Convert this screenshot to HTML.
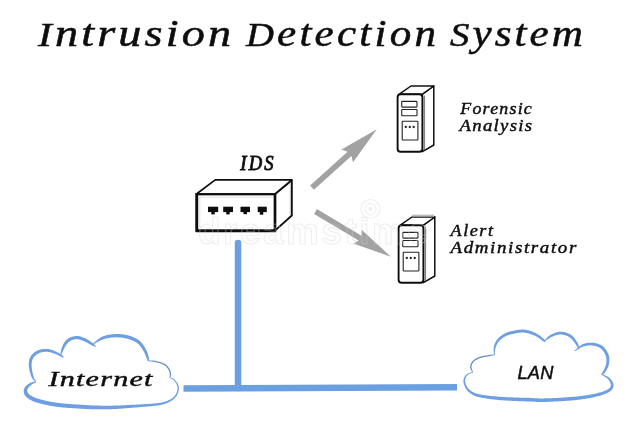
<!DOCTYPE html>
<html><head><meta charset="utf-8">
<style>
html,body{margin:0;padding:0;background:#fff;}
body{width:640px;height:444px;overflow:hidden;}
svg{display:block;}
text{font-family:"Liberation Serif", serif;font-style:italic;fill:#111;stroke:#111;stroke-width:0.45px;}
</style></head>
<body>
<svg width="640" height="444" viewBox="0 0 640 444">
<defs><filter id="soft" x="0" y="0" width="100%" height="100%"><feGaussianBlur stdDeviation="0.35"/></filter></defs>
<rect width="640" height="444" fill="#fff"/>
<g filter="url(#soft)">
<!-- title -->
<text transform="translate(38.00,46.00) scale(1.200,1)" x="0" y="0" font-size="38.50" textLength="160.83" lengthAdjust="spacing" style="stroke-width:0.55px"><tspan font-size="34.5">I</tspan>ntrusion</text>
<text transform="translate(246.00,46.00) scale(1.120,1)" x="0" y="0" font-size="38.50" textLength="169.64" lengthAdjust="spacing" style="stroke-width:0.55px"><tspan font-size="34.5">D</tspan>etection</text>
<text transform="translate(450.00,46.00) scale(1.120,1)" x="0" y="0" font-size="38.50" textLength="118.75" lengthAdjust="spacing" style="stroke-width:0.55px"><tspan font-size="34.5">S</tspan>ystem</text>
<!-- IDS label -->
<text transform="translate(240.30,169.70) scale(0.930,1)" x="0" y="0" font-size="20.00" textLength="35.81" lengthAdjust="spacing" style="stroke-width:0.85px">IDS</text>
<!-- IDS box -->
<path d="M275,194 L291.8,180.2 L291.8,215.5 L275,230.6 Z" fill="#fff" stroke="#111" stroke-width="1.9" stroke-linejoin="round"/>
<path d="M196.5,194 L215.2,179.9 L291.8,179.9 L275,194 Z" fill="#fff" stroke="#111" stroke-width="1.7" stroke-linejoin="round"/>
<line x1="290.2" y1="182.5" x2="290.2" y2="215" stroke="#bbb" stroke-width="0.8"/>
<rect x="196.8" y="194.2" width="78.2" height="36.5" fill="#fff" stroke="#111" stroke-width="2.3"/>
<line x1="196.8" y1="193.2" x2="196.8" y2="231.8" stroke="#111" stroke-width="2.8"/>
<line x1="275" y1="194" x2="275" y2="231.5" stroke="#111" stroke-width="2.5"/>
<line x1="196" y1="230.8" x2="276" y2="230.8" stroke="#111" stroke-width="2.7"/>
<line x1="199.5" y1="197.2" x2="273" y2="197.2" stroke="#ddd" stroke-width="0.8"/>
<line x1="199.8" y1="197.2" x2="199.8" y2="228.5" stroke="#ddd" stroke-width="0.8"/>
<rect x="208.0" y="206.7" width="10.2" height="5.4" fill="#111"/><rect x="211.3" y="211.5" width="3.5" height="2.9" fill="#111"/><rect x="223.2" y="206.7" width="9.8" height="5.4" fill="#111"/><rect x="226.2" y="211.5" width="3.5" height="2.9" fill="#111"/><rect x="240.5" y="206.7" width="9.5" height="5.4" fill="#111"/><rect x="243.5" y="211.5" width="3.5" height="2.7" fill="#111"/><rect x="257.7" y="206.7" width="9.1" height="5.4" fill="#111"/><rect x="259.8" y="211.5" width="3.5" height="3.2" fill="#111"/>
<!-- arrows -->
<path d="M310.1,185.6 L347.6,151.8 L341.5,149.5 L376.8,129.3 L353.0,162.3 L351.4,156.0 L313.9,189.8 Z" fill="#a2a2a2"/>
<path d="M316.9,209.1 L361.5,235.8 L361.6,229.8 L390.9,256.7 L353.4,243.6 L358.7,240.6 L314.1,213.9 Z" fill="#a2a2a2"/>
<!-- servers -->
<path d="M422.4,94.2 L433.8,86.0 L433.8,145.0 L422.4,151.7 Z" fill="#fff" stroke="#111" stroke-width="1.5" stroke-linejoin="round"/>
<path d="M399.3,94.2 L411.0,86.0 L433.8,86.0 L422.4,94.2 Z" fill="#fff" stroke="#111" stroke-width="1.5" stroke-linejoin="round"/>
<rect x="397.6" y="94.2" width="24.8" height="57.5" rx="3" fill="#fff" stroke="#111" stroke-width="1.9"/>
<line x1="424.6" y1="95.5" x2="424.6" y2="150.3" stroke="#555" stroke-width="0.8"/>
<rect x="401.7" y="101.4" width="15.3" height="5.7" rx="0.8" fill="#fff" stroke="#222" stroke-width="1.1"/>
<rect x="401.7" y="109.5" width="15.3" height="6.3" rx="0.8" fill="#fff" stroke="#222" stroke-width="1.1"/>
<rect x="402.2" y="121.2" width="15.7" height="18.8" rx="0.8" fill="#fff" stroke="#222" stroke-width="1.1"/>
<circle cx="405.8" cy="127.0" r="1.15" fill="#222"/>
<circle cx="409.8" cy="127.0" r="1.15" fill="#222"/>
<circle cx="413.7" cy="127.0" r="1.15" fill="#222"/>
<path d="M423.4,225.2 L434.8,217.0 L434.8,276.0 L423.4,282.7 Z" fill="#fff" stroke="#111" stroke-width="1.5" stroke-linejoin="round"/>
<path d="M400.3,225.2 L412.0,217.0 L434.8,217.0 L423.4,225.2 Z" fill="#fff" stroke="#111" stroke-width="1.5" stroke-linejoin="round"/>
<rect x="398.6" y="225.2" width="24.8" height="57.5" rx="3" fill="#fff" stroke="#111" stroke-width="1.9"/>
<line x1="425.6" y1="226.5" x2="425.6" y2="281.3" stroke="#555" stroke-width="0.8"/>
<rect x="402.7" y="232.4" width="15.3" height="5.7" rx="0.8" fill="#fff" stroke="#222" stroke-width="1.1"/>
<rect x="402.7" y="240.5" width="15.3" height="6.3" rx="0.8" fill="#fff" stroke="#222" stroke-width="1.1"/>
<rect x="403.2" y="252.2" width="15.7" height="18.8" rx="0.8" fill="#fff" stroke="#222" stroke-width="1.1"/>
<circle cx="406.8" cy="258.0" r="1.15" fill="#222"/>
<circle cx="410.8" cy="258.0" r="1.15" fill="#222"/>
<circle cx="414.7" cy="258.0" r="1.15" fill="#222"/>
<line x1="412" y1="215.6" x2="434" y2="215.6" stroke="#bdbdbd" stroke-width="2"/>
<!-- server labels -->
<text transform="translate(460.30,113.60) scale(1.050,1)" x="0" y="0" font-size="17.00" textLength="68.10" lengthAdjust="spacing" >Forensic</text>
<text transform="translate(459.60,130.60) scale(1.100,1)" x="0" y="0" font-size="17.00" textLength="65.82" lengthAdjust="spacing" >Analysis</text>
<text transform="translate(450.50,236.00) scale(1.050,1)" x="0" y="0" font-size="17.20" textLength="40.48" lengthAdjust="spacing" >Alert</text>
<text transform="translate(450.50,252.60) scale(1.100,1)" x="0" y="0" font-size="17.20" textLength="114.36" lengthAdjust="spacing" >Administrator</text>
<!-- watermark -->
<g opacity="0.35">
<text x="198" y="243.5" font-size="37" textLength="230" lengthAdjust="spacing" style="font-family:'Liberation Sans',sans-serif;font-style:normal;font-weight:bold;fill:none;stroke:#d0d0d0;stroke-width:1.1px">dreamstime</text>
<circle cx="370.5" cy="209" r="9.5" fill="none" stroke="#d4d4d4" stroke-width="1.2"/>
<circle cx="370.5" cy="209" r="5.5" fill="none" stroke="#d4d4d4" stroke-width="1.2"/>
<circle cx="370.5" cy="209" r="2" fill="#d4d4d4"/>
</g>
<!-- network lines -->
<line x1="238" y1="243" x2="238" y2="388" stroke="#6aa0e2" stroke-width="6.5" stroke-linecap="round"/>
<line x1="183.5" y1="388.4" x2="457" y2="387.3" stroke="#6aa0e2" stroke-width="6.5"/>
<!-- clouds -->
<path d="M35.57,381.25 L35.22,381.36 L34.87,381.47 L34.51,381.57 L34.15,381.66 L33.79,381.76 L33.42,381.85 L33.05,381.95 L32.68,382.05 L32.30,382.15 L31.92,382.26 L31.54,382.39 L31.15,382.52 L30.77,382.68 L30.38,382.84 L30.00,383.03 L29.62,383.24 L29.27,383.46 L28.91,383.69 L28.55,383.93 L28.18,384.19 L27.81,384.46 L27.44,384.75 L27.07,385.04 L26.70,385.35 L26.35,385.67 L26.00,386.00 L25.67,386.34 L25.36,386.70 L25.06,387.07 L24.78,387.46 L24.53,387.88 L24.31,388.31 L24.14,388.73 L23.99,389.14 L23.88,389.57 L23.80,390.01 L23.75,390.46 L23.72,390.92 L23.72,391.38 L23.75,391.84 L23.80,392.31 L23.88,392.78 L24.00,393.24 L24.14,393.71 L24.32,394.17 L24.53,394.62 L24.78,395.07 L25.05,395.50 L25.36,395.92 L25.70,396.32 L26.06,396.71 L26.44,397.08 L26.84,397.45 L27.27,397.80 L27.71,398.15 L28.17,398.49 L28.65,398.82 L29.14,399.15 L29.65,399.46 L30.17,399.77 L30.70,400.07 L31.25,400.36 L31.80,400.64 L32.37,400.92 L32.96,401.18 L33.57,401.43 L34.19,401.68 L34.83,401.91 L35.49,402.13 L36.15,402.35 L36.83,402.56 L37.52,402.76 L38.21,402.96 L38.92,403.16 L39.63,403.34 L40.34,403.53 L41.06,403.71 L41.78,403.89 L42.50,404.07 L43.23,404.24 L43.97,404.42 L44.72,404.60 L45.48,404.77 L46.25,404.94 L47.03,405.10 L47.82,405.27 L48.62,405.43 L49.42,405.58 L50.23,405.74 L51.05,405.88 L51.87,406.03 L52.69,406.17 L53.52,406.30 L54.35,406.43 L55.19,406.56 L56.02,406.68 L56.84,406.79 L57.63,406.90 L58.39,407.00 L59.15,407.09 L59.90,407.17 L60.65,407.25 L61.41,407.33 L62.19,407.40 L62.99,407.48 L63.82,407.55 L64.69,407.62 L65.60,407.69 L66.57,407.76 L67.60,407.84 L68.69,407.91 L69.86,408.00 L71.12,408.08 L72.48,408.16 L73.93,408.25 L75.44,408.35 L77.02,408.45 L78.64,408.54 L80.31,408.64 L81.99,408.73 L83.69,408.83 L85.39,408.92 L87.08,409.00 L88.74,409.08 L90.37,409.15 L91.96,409.21 L93.49,409.26 L94.94,409.30 L96.35,409.32 L97.74,409.34 L99.11,409.35 L100.45,409.35 L101.78,409.34 L103.09,409.33 L104.38,409.32 L105.64,409.29 L106.89,409.27 L108.11,409.24 L109.32,409.20 L110.51,409.17 L111.67,409.13 L112.82,409.09 L113.94,409.04 L115.05,409.00 L116.13,408.95 L117.18,408.90 L118.20,408.84 L119.19,408.78 L120.15,408.72 L121.09,408.65 L122.01,408.58 L122.92,408.50 L123.81,408.43 L124.70,408.35 L125.59,408.27 L126.47,408.20 L127.36,408.12 L128.26,408.04 L129.17,407.97 L130.10,407.90 L131.03,407.83 L131.97,407.76 L132.91,407.69 L133.86,407.62 L134.80,407.55 L135.74,407.48 L136.69,407.41 L137.63,407.33 L138.58,407.26 L139.52,407.19 L140.47,407.11 L141.42,407.03 L142.36,406.95 L143.31,406.87 L144.26,406.78 L145.20,406.70 L146.16,406.61 L147.13,406.52 L148.11,406.43 L149.11,406.34 L150.12,406.25 L151.12,406.16 L152.13,406.07 L153.13,405.97 L154.12,405.87 L155.09,405.76 L156.05,405.65 L156.98,405.53 L157.89,405.41 L158.76,405.28 L159.60,405.13 L160.40,404.98 L161.16,404.82 L161.88,404.66 L162.57,404.49 L163.23,404.31 L163.87,404.12 L164.48,403.93 L165.07,403.74 L165.64,403.53 L166.19,403.32 L166.73,403.11 L167.25,402.89 L167.76,402.66 L168.25,402.43 L168.74,402.20 L169.22,401.95 L169.70,401.71 L170.18,401.45 L170.64,401.19 L171.10,400.93 L171.54,400.66 L171.97,400.38 L172.39,400.09 L172.80,399.80 L173.19,399.51 L173.57,399.20 L173.94,398.89 L174.30,398.57 L174.64,398.25 L174.97,397.91 L175.29,397.58 L175.59,397.23 L175.88,396.87 L176.16,396.51 L176.43,396.13 L176.68,395.74 L176.92,395.34 L177.14,394.93 L177.35,394.52 L177.54,394.10 L177.72,393.68 L177.88,393.26 L178.04,392.84 L178.18,392.42 L178.30,392.01 L178.42,391.61 L178.52,391.21 L178.61,390.82 L178.69,390.44 L178.76,390.07 L178.81,389.70 L178.86,389.33 L178.90,388.97 L178.92,388.61 L178.93,388.26 L178.92,387.90 L178.90,387.55 L178.87,387.20 L178.83,386.85 L178.77,386.50 L178.69,386.15 L178.60,385.80 L178.50,385.45 L178.37,385.10 L178.23,384.75 L178.07,384.39 L177.88,384.02 L177.67,383.65 L177.45,383.28 L177.21,382.91 L176.95,382.54 L176.69,382.17 L176.42,381.81 L176.13,381.45 L175.85,381.10 L175.56,380.77 L175.27,380.44 L174.99,380.14 L174.70,379.85 L174.42,379.58 L174.15,379.33 L173.87,379.09 L173.59,378.88 L173.30,378.70 L173.02,378.53 L172.74,378.38 L172.45,378.24 L172.17,378.12 L171.90,378.01 L171.62,377.90 L171.35,377.80 L171.08,377.71 L170.81,377.61 L170.54,377.51 L170.28,377.41 L170.02,377.30 L169.76,377.18 L169.44,377.82 L169.70,377.96 L169.97,378.10 L170.24,378.22 L170.51,378.34 L170.78,378.46 L171.04,378.57 L171.30,378.69 L171.55,378.80 L171.81,378.93 L172.05,379.05 L172.30,379.19 L172.54,379.34 L172.77,379.50 L173.00,379.67 L173.23,379.86 L173.45,380.07 L173.69,380.32 L173.93,380.58 L174.19,380.87 L174.44,381.17 L174.70,381.49 L174.96,381.82 L175.21,382.16 L175.46,382.51 L175.70,382.86 L175.93,383.22 L176.15,383.57 L176.35,383.93 L176.54,384.27 L176.70,384.61 L176.85,384.94 L176.97,385.25 L177.08,385.56 L177.17,385.87 L177.25,386.17 L177.33,386.46 L177.39,386.76 L177.44,387.06 L177.48,387.35 L177.51,387.65 L177.52,387.95 L177.53,388.25 L177.52,388.55 L177.50,388.86 L177.47,389.18 L177.43,389.50 L177.38,389.83 L177.31,390.16 L177.24,390.51 L177.15,390.86 L177.05,391.23 L176.94,391.60 L176.82,391.98 L176.68,392.36 L176.54,392.74 L176.38,393.12 L176.21,393.50 L176.03,393.87 L175.84,394.24 L175.64,394.60 L175.43,394.95 L175.20,395.29 L174.97,395.61 L174.72,395.93 L174.45,396.23 L174.17,396.52 L173.87,396.81 L173.57,397.10 L173.25,397.38 L172.91,397.65 L172.57,397.92 L172.21,398.18 L171.84,398.44 L171.45,398.69 L171.06,398.94 L170.65,399.18 L170.23,399.42 L169.80,399.65 L169.35,399.87 L168.90,400.09 L168.43,400.31 L167.96,400.52 L167.49,400.72 L167.01,400.92 L166.52,401.11 L166.03,401.29 L165.52,401.47 L164.99,401.64 L164.45,401.81 L163.89,401.97 L163.31,402.12 L162.71,402.27 L162.07,402.42 L161.41,402.56 L160.72,402.69 L160.00,402.82 L159.24,402.94 L158.44,403.05 L157.59,403.15 L156.71,403.25 L155.80,403.34 L154.86,403.43 L153.90,403.50 L152.92,403.58 L151.93,403.65 L150.93,403.72 L149.92,403.78 L148.92,403.85 L147.92,403.91 L146.93,403.98 L145.95,404.04 L145.00,404.10 L144.05,404.17 L143.11,404.23 L142.17,404.29 L141.23,404.34 L140.29,404.39 L139.34,404.44 L138.40,404.49 L137.46,404.54 L136.51,404.59 L135.57,404.63 L134.62,404.68 L133.68,404.72 L132.74,404.77 L131.79,404.81 L130.85,404.86 L129.90,404.90 L128.97,404.95 L128.05,405.00 L127.14,405.05 L126.25,405.10 L125.36,405.16 L124.47,405.21 L123.59,405.26 L122.70,405.31 L121.80,405.36 L120.89,405.40 L119.96,405.45 L119.01,405.49 L118.04,405.52 L117.05,405.55 L116.02,405.58 L114.95,405.60 L113.85,405.62 L112.73,405.64 L111.59,405.65 L110.43,405.67 L109.25,405.68 L108.06,405.69 L106.84,405.69 L105.61,405.69 L104.36,405.69 L103.08,405.68 L101.79,405.67 L100.48,405.65 L99.15,405.62 L97.81,405.59 L96.44,405.55 L95.06,405.50 L93.62,405.45 L92.11,405.39 L90.55,405.31 L88.93,405.23 L87.28,405.14 L85.60,405.05 L83.91,404.95 L82.22,404.84 L80.54,404.73 L78.89,404.62 L77.27,404.52 L75.70,404.41 L74.19,404.30 L72.75,404.20 L71.40,404.10 L70.14,404.00 L68.97,403.92 L67.88,403.85 L66.86,403.77 L65.91,403.70 L65.01,403.63 L64.15,403.56 L63.34,403.49 L62.56,403.42 L61.80,403.35 L61.07,403.27 L60.34,403.20 L59.62,403.11 L58.88,403.03 L58.14,402.93 L57.37,402.83 L56.58,402.72 L55.77,402.60 L54.96,402.48 L54.16,402.35 L53.35,402.22 L52.55,402.09 L51.75,401.95 L50.96,401.80 L50.18,401.65 L49.40,401.50 L48.62,401.35 L47.86,401.19 L47.10,401.03 L46.35,400.86 L45.61,400.70 L44.89,400.53 L44.17,400.36 L43.45,400.18 L42.74,400.01 L42.03,399.83 L41.33,399.65 L40.64,399.47 L39.96,399.29 L39.29,399.11 L38.63,398.92 L37.99,398.73 L37.37,398.54 L36.76,398.34 L36.17,398.14 L35.60,397.93 L35.06,397.72 L34.53,397.50 L34.03,397.28 L33.54,397.06 L33.05,396.82 L32.57,396.58 L32.11,396.33 L31.65,396.07 L31.22,395.82 L30.80,395.56 L30.40,395.30 L30.03,395.03 L29.68,394.77 L29.35,394.51 L29.05,394.25 L28.78,394.00 L28.53,393.75 L28.32,393.52 L28.15,393.30 L27.99,393.08 L27.86,392.87 L27.74,392.64 L27.64,392.42 L27.55,392.18 L27.48,391.95 L27.42,391.70 L27.38,391.46 L27.35,391.21 L27.34,390.96 L27.34,390.71 L27.35,390.46 L27.38,390.21 L27.41,389.97 L27.45,389.72 L27.49,389.49 L27.54,389.28 L27.62,389.05 L27.73,388.80 L27.88,388.53 L28.05,388.25 L28.25,387.96 L28.48,387.66 L28.72,387.37 L28.98,387.07 L29.26,386.77 L29.54,386.48 L29.83,386.20 L30.12,385.92 L30.41,385.66 L30.70,385.40 L30.98,385.16 L31.23,384.94 L31.49,384.74 L31.76,384.54 L32.04,384.35 L32.34,384.17 L32.64,384.00 L32.96,383.83 L33.29,383.67 L33.62,383.51 L33.96,383.35 L34.30,383.19 L34.65,383.03 L34.99,382.87 L35.34,382.70 L35.69,382.53 L36.03,382.35 Z" fill="#6d9fe2"/>
<path d="M36.18,381.56 L35.99,381.20 L35.79,380.85 L35.59,380.51 L35.39,380.17 L35.19,379.85 L34.99,379.52 L34.80,379.20 L34.61,378.88 L34.43,378.55 L34.26,378.22 L34.09,377.88 L33.94,377.52 L33.79,377.16 L33.65,376.77 L33.52,376.36 L33.40,375.93 L33.28,375.45 L33.14,374.95 L32.99,374.41 L32.85,373.84 L32.71,373.25 L32.57,372.65 L32.44,372.03 L32.31,371.40 L32.20,370.77 L32.09,370.15 L31.99,369.52 L31.91,368.91 L31.83,368.32 L31.77,367.75 L31.73,367.20 L31.70,366.68 L31.66,366.18 L31.64,365.69 L31.63,365.20 L31.63,364.72 L31.64,364.26 L31.66,363.80 L31.69,363.35 L31.73,362.91 L31.78,362.49 L31.84,362.07 L31.91,361.66 L31.99,361.27 L32.08,360.88 L32.18,360.51 L32.29,360.15 L32.41,359.80 L32.54,359.46 L32.68,359.13 L32.84,358.80 L33.00,358.48 L33.18,358.16 L33.37,357.86 L33.57,357.55 L33.78,357.26 L34.00,356.97 L34.23,356.69 L34.47,356.41 L34.71,356.14 L34.97,355.88 L35.23,355.63 L35.50,355.38 L35.77,355.15 L36.04,354.92 L36.33,354.70 L36.62,354.49 L36.93,354.29 L37.24,354.09 L37.56,353.90 L37.89,353.72 L38.23,353.54 L38.58,353.38 L38.93,353.22 L39.29,353.07 L39.66,352.93 L40.03,352.79 L40.41,352.67 L40.79,352.56 L41.17,352.45 L41.57,352.35 L41.98,352.25 L42.39,352.16 L42.82,352.08 L43.25,352.01 L43.69,351.95 L44.14,351.89 L44.59,351.85 L45.04,351.81 L45.50,351.79 L45.95,351.77 L46.41,351.77 L46.86,351.78 L47.32,351.81 L47.77,351.84 L48.21,351.89 L48.65,351.94 L49.10,352.02 L49.57,352.11 L50.06,352.23 L50.55,352.35 L51.04,352.49 L51.54,352.64 L52.05,352.81 L52.55,352.97 L53.04,353.15 L53.53,353.33 L54.02,353.51 L54.49,353.69 L54.96,353.87 L55.40,354.04 L55.83,354.20 L56.24,354.36 L56.63,354.52 L57.03,354.69 L57.42,354.86 L57.80,355.04 L58.18,355.22 L58.55,355.41 L58.91,355.59 L59.26,355.77 L59.60,355.95 L59.92,356.13 L60.24,356.29 L60.54,356.45 L60.82,356.61 L61.09,356.74 L61.35,356.85 L61.58,356.94 L61.78,357.02 L61.95,357.09 L62.10,357.14 L62.24,357.19 L62.36,357.24 L62.46,357.28 L62.56,357.31 L62.65,357.35 L62.75,357.39 L62.84,357.43 L62.94,357.47 L63.04,357.52 L63.14,357.57 L63.26,357.63 L63.39,357.69 L63.81,357.11 L63.73,357.01 L63.66,356.93 L63.59,356.84 L63.54,356.76 L63.48,356.67 L63.43,356.59 L63.37,356.50 L63.30,356.40 L63.23,356.30 L63.14,356.19 L63.03,356.07 L62.92,355.95 L62.78,355.81 L62.63,355.67 L62.45,355.51 L62.25,355.35 L62.03,355.18 L61.79,355.00 L61.53,354.82 L61.25,354.63 L60.95,354.42 L60.63,354.21 L60.30,353.99 L59.96,353.77 L59.60,353.54 L59.22,353.32 L58.84,353.09 L58.44,352.86 L58.04,352.64 L57.62,352.41 L57.20,352.20 L56.77,352.00 L56.34,351.80 L55.90,351.60 L55.43,351.40 L54.95,351.19 L54.46,350.98 L53.96,350.77 L53.44,350.56 L52.92,350.36 L52.39,350.16 L51.85,349.97 L51.31,349.79 L50.76,349.62 L50.22,349.47 L49.67,349.33 L49.13,349.21 L48.59,349.11 L48.06,349.04 L47.53,348.99 L47.00,348.95 L46.47,348.92 L45.95,348.91 L45.42,348.91 L44.90,348.93 L44.37,348.95 L43.86,348.99 L43.35,349.04 L42.84,349.10 L42.34,349.17 L41.85,349.25 L41.37,349.34 L40.89,349.44 L40.43,349.55 L39.97,349.67 L39.51,349.81 L39.06,349.96 L38.61,350.11 L38.18,350.28 L37.74,350.46 L37.31,350.66 L36.89,350.86 L36.48,351.07 L36.08,351.29 L35.68,351.53 L35.29,351.77 L34.91,352.03 L34.54,352.29 L34.18,352.57 L33.83,352.85 L33.50,353.15 L33.17,353.45 L32.85,353.76 L32.53,354.08 L32.23,354.41 L31.93,354.76 L31.64,355.11 L31.36,355.48 L31.09,355.86 L30.84,356.24 L30.59,356.64 L30.36,357.05 L30.14,357.48 L29.94,357.91 L29.75,358.35 L29.59,358.80 L29.44,359.26 L29.31,359.73 L29.20,360.20 L29.10,360.68 L29.01,361.16 L28.94,361.66 L28.88,362.16 L28.84,362.66 L28.80,363.17 L28.78,363.69 L28.78,364.21 L28.78,364.74 L28.80,365.28 L28.82,365.82 L28.86,366.36 L28.90,366.92 L28.98,367.49 L29.07,368.09 L29.17,368.71 L29.29,369.34 L29.42,369.99 L29.56,370.64 L29.71,371.29 L29.87,371.95 L30.04,372.60 L30.22,373.24 L30.40,373.87 L30.59,374.48 L30.78,375.07 L30.97,375.64 L31.18,376.17 L31.40,376.67 L31.63,377.14 L31.88,377.59 L32.13,378.00 L32.38,378.39 L32.64,378.75 L32.90,379.09 L33.16,379.41 L33.43,379.72 L33.69,380.02 L33.95,380.30 L34.20,380.58 L34.45,380.86 L34.70,381.14 L34.94,381.43 L35.18,381.73 L35.42,382.04 Z" fill="#6d9fe2"/>
<path d="M60.93,355.74 L61.11,355.31 L61.29,354.88 L61.48,354.44 L61.66,354.00 L61.84,353.56 L62.03,353.12 L62.22,352.69 L62.41,352.26 L62.60,351.83 L62.79,351.42 L62.99,351.00 L63.19,350.60 L63.40,350.21 L63.59,349.83 L63.77,349.45 L63.95,349.08 L64.13,348.70 L64.31,348.32 L64.48,347.96 L64.66,347.59 L64.83,347.24 L65.00,346.90 L65.18,346.57 L65.36,346.24 L65.54,345.92 L65.72,345.62 L65.91,345.32 L66.11,345.03 L66.31,344.75 L66.52,344.47 L66.73,344.21 L66.96,343.95 L67.20,343.67 L67.45,343.39 L67.70,343.12 L67.96,342.85 L68.22,342.58 L68.48,342.33 L68.75,342.08 L69.03,341.85 L69.31,341.62 L69.59,341.40 L69.88,341.20 L70.18,341.01 L70.48,340.83 L70.78,340.66 L71.10,340.51 L71.43,340.37 L71.78,340.23 L72.15,340.09 L72.55,339.96 L72.95,339.84 L73.37,339.72 L73.80,339.62 L74.24,339.52 L74.69,339.44 L75.14,339.37 L75.59,339.31 L76.04,339.27 L76.49,339.24 L76.93,339.23 L77.37,339.23 L77.80,339.25 L78.22,339.29 L78.63,339.34 L79.06,339.41 L79.50,339.51 L79.95,339.63 L80.42,339.77 L80.89,339.92 L81.37,340.09 L81.86,340.27 L82.34,340.47 L82.83,340.67 L83.31,340.88 L83.79,341.10 L84.27,341.32 L84.74,341.53 L85.20,341.75 L85.65,341.95 L86.07,342.14 L86.49,342.33 L86.90,342.54 L87.32,342.76 L87.74,342.98 L88.15,343.21 L88.55,343.44 L88.95,343.68 L89.35,343.91 L89.74,344.15 L90.12,344.38 L90.48,344.60 L90.84,344.82 L91.19,345.03 L91.53,345.23 L91.85,345.41 L92.16,345.56 L92.44,345.70 L92.71,345.81 L92.98,345.90 L93.23,345.99 L93.46,346.07 L93.69,346.15 L93.91,346.22 L94.12,346.30 L94.33,346.38 L94.53,346.45 L94.74,346.53 L94.95,346.62 L95.16,346.70 L95.38,346.80 L95.60,346.90 L96.00,346.30 L95.82,346.13 L95.66,345.97 L95.50,345.80 L95.35,345.64 L95.20,345.48 L95.05,345.32 L94.91,345.15 L94.76,344.98 L94.60,344.80 L94.44,344.62 L94.27,344.42 L94.08,344.22 L93.88,344.01 L93.66,343.81 L93.41,343.60 L93.15,343.39 L92.86,343.18 L92.56,342.96 L92.24,342.73 L91.90,342.48 L91.55,342.22 L91.19,341.96 L90.81,341.69 L90.42,341.41 L90.02,341.13 L89.61,340.85 L89.19,340.57 L88.75,340.29 L88.31,340.02 L87.86,339.75 L87.41,339.49 L86.95,339.25 L86.50,339.03 L86.04,338.80 L85.57,338.57 L85.08,338.33 L84.58,338.10 L84.07,337.86 L83.55,337.63 L83.02,337.40 L82.48,337.18 L81.94,336.98 L81.39,336.78 L80.83,336.60 L80.28,336.44 L79.71,336.31 L79.14,336.19 L78.58,336.11 L78.02,336.06 L77.46,336.03 L76.90,336.03 L76.35,336.05 L75.79,336.08 L75.24,336.13 L74.69,336.20 L74.15,336.29 L73.61,336.38 L73.09,336.50 L72.57,336.62 L72.07,336.76 L71.57,336.91 L71.09,337.07 L70.63,337.24 L70.17,337.43 L69.73,337.63 L69.29,337.86 L68.87,338.11 L68.47,338.36 L68.08,338.63 L67.70,338.91 L67.34,339.20 L67.00,339.50 L66.66,339.81 L66.34,340.12 L66.03,340.44 L65.74,340.76 L65.45,341.08 L65.17,341.40 L64.90,341.72 L64.64,342.05 L64.38,342.40 L64.13,342.76 L63.90,343.13 L63.68,343.50 L63.47,343.87 L63.27,344.24 L63.08,344.62 L62.90,345.00 L62.73,345.38 L62.57,345.76 L62.41,346.15 L62.25,346.54 L62.10,346.93 L61.95,347.32 L61.80,347.72 L61.65,348.12 L61.50,348.55 L61.37,348.99 L61.25,349.44 L61.16,349.90 L61.07,350.36 L60.98,350.83 L60.89,351.30 L60.81,351.77 L60.72,352.23 L60.63,352.70 L60.55,353.17 L60.46,353.63 L60.37,354.10 L60.27,354.56 L60.17,355.01 L60.07,355.46 Z" fill="#6d9fe2"/>
<path d="M92.75,344.78 L93.36,344.43 L93.98,344.07 L94.60,343.71 L95.22,343.34 L95.84,342.97 L96.46,342.61 L97.07,342.25 L97.69,341.89 L98.31,341.55 L98.92,341.22 L99.53,340.91 L100.13,340.61 L100.73,340.34 L101.32,340.10 L101.91,339.88 L102.48,339.68 L103.03,339.45 L103.59,339.24 L104.13,339.04 L104.68,338.86 L105.23,338.70 L105.77,338.55 L106.31,338.41 L106.86,338.28 L107.41,338.17 L107.97,338.06 L108.53,337.96 L109.10,337.88 L109.68,337.79 L110.27,337.72 L110.87,337.65 L111.48,337.59 L112.10,337.53 L112.74,337.48 L113.38,337.43 L114.04,337.40 L114.71,337.38 L115.39,337.36 L116.07,337.35 L116.75,337.36 L117.43,337.37 L118.11,337.39 L118.79,337.42 L119.46,337.45 L120.11,337.50 L120.76,337.56 L121.39,337.62 L122.01,337.69 L122.61,337.76 L123.21,337.84 L123.81,337.94 L124.40,338.04 L124.98,338.14 L125.55,338.26 L126.12,338.39 L126.69,338.52 L127.25,338.66 L127.80,338.81 L128.34,338.97 L128.88,339.14 L129.42,339.31 L129.94,339.49 L130.46,339.68 L130.98,339.88 L131.50,340.08 L132.01,340.29 L132.52,340.50 L133.02,340.72 L133.52,340.94 L134.00,341.18 L134.48,341.41 L134.95,341.66 L135.41,341.92 L135.86,342.18 L136.30,342.45 L136.72,342.74 L137.14,343.03 L137.54,343.33 L137.94,343.65 L138.32,343.98 L138.68,344.32 L139.05,344.69 L139.40,345.08 L139.76,345.49 L140.11,345.92 L140.46,346.37 L140.80,346.83 L141.13,347.30 L141.45,347.78 L141.77,348.27 L142.08,348.76 L142.38,349.24 L142.67,349.73 L142.95,350.20 L143.23,350.67 L143.49,351.12 L143.74,351.55 L143.98,351.98 L144.21,352.42 L144.43,352.87 L144.64,353.32 L144.84,353.77 L145.04,354.22 L145.23,354.67 L145.41,355.11 L145.58,355.55 L145.74,355.98 L145.90,356.39 L146.05,356.79 L146.19,357.17 L146.33,357.53 L146.46,357.87 L146.59,358.16 L146.73,358.41 L146.85,358.64 L146.96,358.85 L147.05,359.05 L147.14,359.24 L147.23,359.41 L147.30,359.59 L147.37,359.76 L147.44,359.93 L147.51,360.11 L147.57,360.29 L147.64,360.47 L147.71,360.67 L147.78,360.87 L147.86,361.08 L148.74,360.92 L148.74,360.70 L148.75,360.51 L148.76,360.32 L148.78,360.13 L148.80,359.95 L148.82,359.76 L148.84,359.57 L148.86,359.36 L148.88,359.15 L148.89,358.91 L148.89,358.67 L148.89,358.40 L148.87,358.12 L148.85,357.81 L148.81,357.48 L148.74,357.13 L148.65,356.78 L148.55,356.41 L148.44,356.01 L148.32,355.59 L148.19,355.15 L148.06,354.70 L147.92,354.23 L147.76,353.74 L147.60,353.25 L147.42,352.75 L147.24,352.24 L147.04,351.72 L146.83,351.21 L146.60,350.69 L146.36,350.18 L146.11,349.68 L145.85,349.19 L145.58,348.70 L145.30,348.20 L145.00,347.68 L144.69,347.16 L144.37,346.63 L144.04,346.10 L143.70,345.57 L143.34,345.04 L142.97,344.52 L142.59,344.00 L142.20,343.50 L141.79,343.00 L141.37,342.52 L140.93,342.06 L140.48,341.62 L140.03,341.21 L139.56,340.81 L139.08,340.44 L138.59,340.08 L138.09,339.73 L137.59,339.40 L137.07,339.08 L136.55,338.78 L136.03,338.48 L135.49,338.20 L134.96,337.93 L134.42,337.67 L133.87,337.42 L133.33,337.18 L132.78,336.95 L132.22,336.72 L131.66,336.50 L131.08,336.29 L130.50,336.09 L129.91,335.90 L129.32,335.71 L128.72,335.54 L128.11,335.37 L127.50,335.22 L126.88,335.07 L126.26,334.93 L125.63,334.81 L124.99,334.69 L124.35,334.58 L123.70,334.48 L123.05,334.39 L122.39,334.31 L121.72,334.25 L121.04,334.19 L120.34,334.15 L119.64,334.11 L118.92,334.08 L118.20,334.06 L117.48,334.06 L116.75,334.06 L116.03,334.07 L115.30,334.09 L114.58,334.12 L113.87,334.15 L113.16,334.20 L112.47,334.26 L111.78,334.33 L111.12,334.41 L110.47,334.50 L109.83,334.60 L109.21,334.71 L108.59,334.82 L107.97,334.94 L107.36,335.07 L106.75,335.21 L106.15,335.37 L105.55,335.53 L104.95,335.71 L104.35,335.91 L103.75,336.12 L103.15,336.34 L102.54,336.58 L101.94,336.84 L101.32,337.12 L100.72,337.47 L100.13,337.86 L99.54,338.26 L98.97,338.68 L98.40,339.11 L97.83,339.55 L97.27,340.00 L96.71,340.46 L96.15,340.92 L95.59,341.38 L95.04,341.83 L94.48,342.29 L93.93,342.74 L93.37,343.18 L92.82,343.61 L92.25,344.02 Z" fill="#6d9fe2"/>
<path d="M147.37,361.00 L147.89,361.08 L148.40,361.15 L148.92,361.22 L149.43,361.29 L149.94,361.35 L150.45,361.42 L150.96,361.48 L151.46,361.55 L151.97,361.63 L152.48,361.70 L152.99,361.76 L153.50,361.83 L154.01,361.92 L154.52,362.01 L155.04,362.11 L155.56,362.23 L156.10,362.36 L156.67,362.50 L157.25,362.64 L157.84,362.79 L158.44,362.95 L159.04,363.11 L159.64,363.29 L160.23,363.47 L160.82,363.66 L161.39,363.86 L161.95,364.06 L162.48,364.28 L162.99,364.50 L163.48,364.72 L163.92,364.96 L164.34,365.20 L164.72,365.45 L165.09,365.71 L165.43,365.99 L165.77,366.28 L166.08,366.58 L166.38,366.89 L166.67,367.22 L166.94,367.54 L167.20,367.88 L167.45,368.22 L167.68,368.56 L167.90,368.90 L168.11,369.24 L168.31,369.57 L168.50,369.91 L168.68,370.23 L168.84,370.54 L168.99,370.85 L169.12,371.17 L169.23,371.51 L169.34,371.84 L169.43,372.18 L169.51,372.52 L169.58,372.86 L169.64,373.19 L169.69,373.52 L169.73,373.84 L169.77,374.15 L169.80,374.44 L169.82,374.72 L169.84,374.98 L169.85,375.22 L169.86,375.41 L169.86,375.57 L169.85,375.70 L169.83,375.83 L169.81,375.94 L169.77,376.04 L169.75,376.15 L169.72,376.26 L169.68,376.38 L169.64,376.50 L169.59,376.63 L169.53,376.77 L169.47,376.91 L169.42,377.06 L169.36,377.22 L169.32,377.38 L169.88,377.62 L169.96,377.50 L170.04,377.40 L170.12,377.31 L170.22,377.22 L170.32,377.13 L170.42,377.04 L170.53,376.93 L170.64,376.81 L170.76,376.68 L170.86,376.52 L170.94,376.34 L171.01,376.15 L171.07,375.93 L171.12,375.70 L171.14,375.44 L171.15,375.18 L171.14,374.92 L171.13,374.64 L171.11,374.34 L171.09,374.02 L171.06,373.69 L171.02,373.34 L170.97,372.98 L170.91,372.62 L170.84,372.24 L170.75,371.86 L170.66,371.47 L170.54,371.09 L170.41,370.70 L170.27,370.31 L170.10,369.94 L169.92,369.57 L169.72,369.22 L169.52,368.87 L169.31,368.51 L169.08,368.15 L168.84,367.78 L168.59,367.41 L168.32,367.04 L168.03,366.67 L167.73,366.30 L167.41,365.94 L167.07,365.59 L166.71,365.25 L166.33,364.91 L165.93,364.59 L165.51,364.29 L165.06,364.00 L164.59,363.73 L164.09,363.48 L163.56,363.23 L163.00,363.00 L162.43,362.78 L161.84,362.57 L161.24,362.37 L160.63,362.18 L160.01,362.00 L159.40,361.83 L158.78,361.66 L158.17,361.51 L157.56,361.36 L156.97,361.22 L156.40,361.09 L155.84,360.97 L155.29,360.86 L154.74,360.77 L154.19,360.69 L153.66,360.62 L153.12,360.56 L152.59,360.52 L152.07,360.49 L151.55,360.48 L151.03,360.48 L150.51,360.47 L150.00,360.47 L149.49,360.46 L148.98,360.46 L148.46,360.44 L147.95,360.43 L147.43,360.40 Z" fill="#6f92cc"/>
<path d="M472.46,371.97 L472.12,372.09 L471.77,372.21 L471.42,372.33 L471.06,372.44 L470.69,372.55 L470.32,372.66 L469.95,372.77 L469.58,372.88 L469.21,373.00 L468.85,373.13 L468.49,373.26 L468.14,373.41 L467.79,373.57 L467.46,373.75 L467.14,373.95 L466.84,374.16 L466.56,374.39 L466.29,374.63 L466.03,374.89 L465.78,375.15 L465.54,375.43 L465.31,375.71 L465.10,376.01 L464.89,376.31 L464.70,376.62 L464.52,376.93 L464.35,377.25 L464.19,377.58 L464.05,377.91 L463.92,378.25 L463.81,378.58 L463.72,378.93 L463.64,379.27 L463.58,379.61 L463.53,379.96 L463.49,380.31 L463.47,380.67 L463.46,381.03 L463.47,381.39 L463.48,381.76 L463.52,382.13 L463.56,382.51 L463.63,382.89 L463.70,383.27 L463.79,383.65 L463.90,384.04 L464.02,384.43 L464.16,384.82 L464.30,385.21 L464.44,385.61 L464.60,386.02 L464.77,386.44 L464.95,386.87 L465.15,387.31 L465.37,387.75 L465.60,388.20 L465.86,388.65 L466.13,389.09 L466.43,389.54 L466.75,389.98 L467.09,390.41 L467.46,390.83 L467.86,391.25 L468.28,391.64 L468.70,392.01 L469.12,392.37 L469.56,392.72 L470.00,393.07 L470.47,393.42 L470.96,393.76 L471.48,394.09 L472.02,394.42 L472.59,394.74 L473.20,395.06 L473.84,395.36 L474.51,395.66 L475.23,395.94 L475.98,396.22 L476.79,396.49 L477.64,396.75 L478.55,397.00 L479.52,397.24 L480.55,397.47 L481.63,397.69 L482.74,397.90 L483.89,398.10 L485.08,398.29 L486.28,398.48 L487.50,398.66 L488.73,398.83 L489.96,399.00 L491.19,399.16 L492.40,399.31 L493.60,399.46 L494.78,399.60 L495.93,399.74 L497.07,399.86 L498.22,399.97 L499.38,400.08 L500.53,400.17 L501.69,400.26 L502.85,400.34 L504.00,400.42 L505.15,400.49 L506.29,400.55 L507.43,400.61 L508.55,400.67 L509.67,400.73 L510.78,400.78 L511.87,400.84 L512.95,400.89 L514.02,400.95 L515.08,401.00 L516.13,401.05 L517.18,401.09 L518.21,401.13 L519.24,401.17 L520.26,401.20 L521.27,401.23 L522.27,401.26 L523.26,401.29 L524.25,401.32 L525.22,401.35 L526.18,401.38 L527.14,401.40 L528.08,401.43 L529.01,401.47 L529.94,401.50 L530.81,401.53 L531.62,401.57 L532.39,401.62 L533.12,401.67 L533.83,401.72 L534.53,401.77 L535.25,401.82 L535.97,401.87 L536.73,401.92 L537.52,401.96 L538.37,401.99 L539.28,402.02 L540.26,402.03 L541.32,402.03 L542.48,402.02 L543.74,402.00 L545.13,401.96 L546.63,401.91 L548.25,401.85 L549.96,401.78 L551.75,401.71 L553.59,401.62 L555.49,401.53 L557.41,401.43 L559.35,401.32 L561.28,401.21 L563.20,401.09 L565.08,400.97 L566.91,400.85 L568.68,400.71 L570.36,400.58 L571.95,400.44 L573.47,400.30 L574.96,400.15 L576.42,399.99 L577.85,399.83 L579.25,399.66 L580.62,399.48 L581.96,399.31 L583.27,399.12 L584.55,398.93 L585.81,398.74 L587.03,398.55 L588.23,398.35 L589.39,398.14 L590.53,397.94 L591.63,397.73 L592.71,397.52 L593.77,397.30 L594.79,397.08 L595.79,396.84 L596.75,396.61 L597.69,396.37 L598.60,396.12 L599.48,395.88 L600.33,395.63 L601.15,395.37 L601.94,395.12 L602.70,394.86 L603.43,394.61 L604.13,394.35 L604.80,394.10 L605.44,393.84 L606.06,393.59 L606.65,393.34 L607.21,393.09 L607.73,392.84 L608.22,392.58 L608.68,392.33 L609.11,392.07 L609.52,391.81 L609.90,391.54 L610.26,391.27 L610.59,390.99 L610.91,390.71 L611.20,390.43 L611.48,390.14 L611.73,389.85 L611.98,389.55 L612.21,389.25 L612.44,388.93 L612.65,388.60 L612.84,388.27 L613.01,387.92 L613.15,387.57 L613.28,387.21 L613.38,386.85 L613.46,386.48 L613.51,386.10 L613.54,385.73 L613.55,385.35 L613.53,384.97 L613.49,384.59 L613.43,384.22 L613.35,383.84 L613.25,383.46 L613.12,383.07 L612.96,382.67 L612.77,382.28 L612.55,381.89 L612.33,381.49 L612.08,381.09 L611.82,380.70 L611.54,380.30 L611.25,379.91 L610.94,379.53 L610.63,379.15 L610.30,378.78 L609.96,378.42 L609.62,378.08 L609.26,377.75 L608.90,377.44 L608.51,377.15 L608.10,376.88 L607.68,376.62 L607.26,376.38 L606.82,376.16 L606.37,375.94 L605.92,375.74 L605.47,375.54 L605.02,375.35 L604.56,375.16 L604.11,374.97 L603.65,374.79 L603.21,374.60 L602.77,374.41 L602.34,374.21 L601.92,374.00 L601.48,374.80 L601.90,375.05 L602.32,375.29 L602.75,375.53 L603.18,375.77 L603.61,376.01 L604.04,376.24 L604.47,376.47 L604.89,376.71 L605.30,376.95 L605.70,377.19 L606.09,377.43 L606.45,377.69 L606.80,377.94 L607.13,378.21 L607.43,378.48 L607.70,378.76 L607.98,379.05 L608.25,379.37 L608.52,379.70 L608.77,380.04 L609.02,380.39 L609.26,380.75 L609.49,381.12 L609.70,381.49 L609.89,381.85 L610.07,382.22 L610.24,382.58 L610.38,382.92 L610.50,383.26 L610.60,383.58 L610.68,383.87 L610.75,384.14 L610.80,384.40 L610.85,384.65 L610.87,384.89 L610.89,385.12 L610.89,385.34 L610.87,385.55 L610.84,385.76 L610.81,385.96 L610.75,386.16 L610.69,386.35 L610.61,386.55 L610.52,386.74 L610.41,386.94 L610.29,387.14 L610.15,387.34 L609.99,387.55 L609.81,387.76 L609.62,387.98 L609.42,388.19 L609.21,388.39 L608.99,388.59 L608.76,388.78 L608.50,388.98 L608.23,389.17 L607.93,389.37 L607.60,389.57 L607.24,389.77 L606.86,389.97 L606.43,390.17 L605.98,390.38 L605.48,390.59 L604.94,390.81 L604.36,391.03 L603.74,391.25 L603.10,391.47 L602.43,391.70 L601.73,391.92 L601.00,392.15 L600.24,392.38 L599.45,392.60 L598.63,392.82 L597.78,393.04 L596.91,393.26 L596.00,393.47 L595.07,393.68 L594.10,393.89 L593.11,394.09 L592.09,394.28 L591.03,394.47 L589.94,394.67 L588.83,394.85 L587.68,395.04 L586.51,395.22 L585.30,395.40 L584.07,395.58 L582.80,395.75 L581.51,395.92 L580.19,396.09 L578.84,396.24 L577.46,396.40 L576.05,396.55 L574.61,396.69 L573.14,396.83 L571.65,396.96 L570.08,397.09 L568.42,397.21 L566.67,397.34 L564.85,397.45 L562.98,397.57 L561.08,397.68 L559.15,397.78 L557.23,397.88 L555.31,397.98 L553.43,398.06 L551.59,398.14 L549.82,398.21 L548.12,398.27 L546.52,398.32 L545.02,398.37 L543.66,398.40 L542.43,398.42 L541.31,398.43 L540.29,398.43 L539.35,398.42 L538.49,398.39 L537.69,398.36 L536.93,398.32 L536.20,398.28 L535.50,398.23 L534.80,398.18 L534.09,398.13 L533.37,398.08 L532.61,398.03 L531.82,397.98 L530.97,397.94 L530.06,397.90 L529.13,397.87 L528.18,397.85 L527.23,397.82 L526.28,397.80 L525.31,397.78 L524.34,397.76 L523.36,397.74 L522.37,397.71 L521.37,397.69 L520.37,397.66 L519.35,397.64 L518.33,397.61 L517.31,397.57 L516.27,397.54 L515.23,397.50 L514.18,397.45 L513.11,397.41 L512.03,397.37 L510.93,397.32 L509.83,397.28 L508.71,397.24 L507.59,397.19 L506.46,397.14 L505.33,397.09 L504.19,397.03 L503.05,396.97 L501.92,396.90 L500.78,396.83 L499.64,396.75 L498.51,396.66 L497.39,396.57 L496.27,396.46 L495.13,396.35 L493.96,396.24 L492.76,396.13 L491.55,396.01 L490.33,395.88 L489.11,395.74 L487.90,395.60 L486.70,395.46 L485.51,395.31 L484.36,395.15 L483.23,394.98 L482.15,394.81 L481.11,394.63 L480.13,394.44 L479.21,394.25 L478.36,394.05 L477.57,393.84 L476.83,393.63 L476.13,393.41 L475.47,393.19 L474.86,392.96 L474.28,392.72 L473.73,392.48 L473.22,392.23 L472.72,391.97 L472.25,391.71 L471.80,391.44 L471.37,391.16 L470.94,390.87 L470.52,390.57 L470.11,390.27 L469.72,389.96 L469.35,389.66 L469.01,389.34 L468.69,389.01 L468.39,388.67 L468.10,388.31 L467.83,387.95 L467.58,387.58 L467.34,387.20 L467.11,386.82 L466.90,386.43 L466.69,386.05 L466.50,385.66 L466.32,385.28 L466.15,384.91 L465.99,384.54 L465.84,384.18 L465.71,383.84 L465.60,383.51 L465.49,383.19 L465.41,382.86 L465.33,382.55 L465.27,382.23 L465.22,381.92 L465.18,381.61 L465.15,381.31 L465.14,381.01 L465.13,380.71 L465.14,380.42 L465.16,380.13 L465.19,379.84 L465.23,379.56 L465.28,379.27 L465.34,379.00 L465.41,378.71 L465.49,378.43 L465.58,378.14 L465.68,377.85 L465.80,377.57 L465.93,377.28 L466.07,377.01 L466.22,376.73 L466.38,376.46 L466.56,376.20 L466.74,375.95 L466.93,375.70 L467.13,375.47 L467.34,375.25 L467.56,375.04 L467.79,374.84 L468.03,374.66 L468.30,374.49 L468.58,374.33 L468.89,374.17 L469.21,374.03 L469.54,373.88 L469.88,373.74 L470.24,373.61 L470.59,373.48 L470.95,373.34 L471.32,373.21 L471.68,373.07 L472.04,372.93 L472.39,372.79 L472.74,372.63 Z" fill="#6d9fe2"/>
<path d="M472.94,372.19 L472.85,371.81 L472.73,371.42 L472.61,371.04 L472.49,370.65 L472.35,370.27 L472.22,369.89 L472.10,369.52 L471.98,369.15 L471.88,368.79 L471.77,368.43 L471.67,368.10 L471.59,367.77 L471.53,367.45 L471.49,367.14 L471.48,366.84 L471.50,366.55 L471.53,366.24 L471.58,365.93 L471.66,365.61 L471.74,365.28 L471.85,364.95 L471.97,364.63 L472.11,364.30 L472.27,363.98 L472.44,363.66 L472.62,363.34 L472.82,363.03 L473.03,362.72 L473.26,362.43 L473.49,362.14 L473.74,361.86 L473.99,361.60 L474.26,361.34 L474.55,361.09 L474.87,360.84 L475.20,360.60 L475.55,360.36 L475.92,360.12 L476.31,359.89 L476.70,359.67 L477.10,359.45 L477.52,359.24 L477.93,359.04 L478.36,358.85 L478.78,358.66 L479.21,358.48 L479.63,358.32 L480.04,358.16 L480.45,358.01 L480.86,357.88 L481.28,357.75 L481.71,357.64 L482.14,357.54 L482.58,357.45 L483.02,357.36 L483.48,357.28 L483.93,357.20 L484.39,357.12 L484.86,357.05 L485.33,356.97 L485.80,356.90 L486.27,356.82 L486.75,356.73 L487.22,356.64 L487.69,356.54 L488.16,356.45 L488.63,356.35 L489.11,356.26 L489.59,356.16 L490.07,356.07 L490.55,355.96 L491.02,355.84 L491.50,355.73 L491.98,355.61 L492.46,355.50 L492.94,355.38 L493.42,355.27 L493.90,355.15 L494.38,355.04 L494.86,354.92 L494.74,354.28 L494.25,354.34 L493.77,354.40 L493.28,354.46 L492.79,354.51 L492.30,354.57 L491.81,354.63 L491.32,354.69 L490.83,354.74 L490.34,354.80 L489.85,354.86 L489.37,354.95 L488.88,355.03 L488.40,355.11 L487.93,355.19 L487.45,355.28 L486.98,355.36 L486.52,355.44 L486.05,355.52 L485.59,355.59 L485.12,355.66 L484.65,355.73 L484.19,355.80 L483.72,355.87 L483.25,355.95 L482.78,356.03 L482.31,356.11 L481.85,356.20 L481.38,356.31 L480.92,356.42 L480.46,356.55 L480.01,356.69 L479.56,356.84 L479.12,357.01 L478.67,357.19 L478.23,357.38 L477.78,357.57 L477.34,357.78 L476.90,357.99 L476.46,358.21 L476.03,358.44 L475.60,358.68 L475.19,358.93 L474.78,359.19 L474.39,359.45 L474.02,359.73 L473.66,360.01 L473.32,360.30 L473.01,360.60 L472.71,360.91 L472.43,361.23 L472.16,361.56 L471.90,361.90 L471.66,362.25 L471.43,362.61 L471.22,362.98 L471.02,363.35 L470.84,363.72 L470.68,364.11 L470.53,364.49 L470.40,364.88 L470.30,365.27 L470.21,365.66 L470.15,366.05 L470.10,366.45 L470.10,366.86 L470.13,367.27 L470.19,367.68 L470.28,368.08 L470.39,368.47 L470.52,368.86 L470.68,369.23 L470.86,369.60 L471.04,369.96 L471.23,370.32 L471.42,370.68 L471.60,371.03 L471.78,371.38 L471.95,371.72 L472.11,372.07 L472.26,372.41 Z" fill="#6b8fcf"/>
<path d="M494.66,355.22 L494.72,354.70 L494.77,354.18 L494.81,353.65 L494.85,353.12 L494.88,352.60 L494.92,352.07 L494.96,351.55 L495.00,351.03 L495.05,350.52 L495.12,350.02 L495.19,349.53 L495.27,349.05 L495.38,348.58 L495.49,348.12 L495.63,347.69 L495.77,347.25 L495.91,346.81 L496.06,346.37 L496.22,345.93 L496.40,345.50 L496.58,345.07 L496.78,344.65 L496.98,344.23 L497.20,343.82 L497.43,343.42 L497.67,343.02 L497.92,342.63 L498.18,342.25 L498.45,341.88 L498.74,341.52 L499.03,341.16 L499.34,340.82 L499.66,340.48 L500.00,340.14 L500.36,339.80 L500.73,339.47 L501.12,339.15 L501.52,338.82 L501.94,338.51 L502.36,338.20 L502.80,337.90 L503.25,337.61 L503.70,337.32 L504.16,337.05 L504.62,336.78 L505.09,336.53 L505.56,336.28 L506.03,336.05 L506.49,335.83 L506.97,335.62 L507.44,335.42 L507.92,335.23 L508.41,335.05 L508.91,334.88 L509.41,334.72 L509.93,334.57 L510.45,334.42 L510.98,334.28 L511.52,334.15 L512.07,334.03 L512.63,333.91 L513.20,333.79 L513.78,333.68 L514.37,333.57 L514.99,333.46 L515.62,333.35 L516.26,333.23 L516.91,333.12 L517.57,333.01 L518.23,332.91 L518.89,332.82 L519.56,332.74 L520.23,332.67 L520.90,332.62 L521.56,332.58 L522.23,332.56 L522.88,332.56 L523.54,332.58 L524.18,332.62 L524.81,332.69 L525.46,332.77 L526.12,332.88 L526.81,333.02 L527.50,333.18 L528.21,333.36 L528.92,333.56 L529.63,333.77 L530.35,334.00 L531.05,334.25 L531.75,334.50 L532.44,334.76 L533.12,335.03 L533.77,335.30 L534.41,335.57 L535.02,335.84 L535.60,336.11 L536.15,336.37 L536.69,336.66 L537.22,336.97 L537.76,337.29 L538.28,337.63 L538.79,337.98 L539.30,338.34 L539.79,338.70 L540.26,339.06 L540.72,339.41 L541.16,339.75 L541.58,340.08 L541.98,340.39 L542.35,340.68 L542.71,340.94 L543.03,341.17 L543.32,341.34 L543.57,341.46 L543.79,341.56 L543.96,341.63 L544.11,341.69 L544.23,341.73 L544.33,341.75 L544.42,341.77 L544.49,341.79 L544.57,341.80 L544.65,341.82 L544.73,341.86 L544.82,341.90 L544.92,341.95 L545.04,342.00 L545.16,342.07 L545.64,341.53 L545.57,341.42 L545.53,341.33 L545.51,341.25 L545.49,341.18 L545.48,341.10 L545.47,341.02 L545.44,340.92 L545.41,340.82 L545.36,340.70 L545.29,340.57 L545.21,340.42 L545.10,340.26 L544.97,340.09 L544.81,339.89 L544.61,339.66 L544.37,339.43 L544.09,339.19 L543.78,338.92 L543.44,338.62 L543.06,338.29 L542.66,337.94 L542.23,337.56 L541.78,337.17 L541.30,336.77 L540.80,336.37 L540.28,335.96 L539.74,335.55 L539.19,335.15 L538.61,334.76 L538.02,334.38 L537.41,334.02 L536.80,333.69 L536.18,333.38 L535.54,333.08 L534.88,332.77 L534.19,332.47 L533.48,332.17 L532.76,331.87 L532.03,331.59 L531.28,331.31 L530.52,331.05 L529.76,330.79 L528.99,330.56 L528.23,330.34 L527.46,330.15 L526.70,329.98 L525.94,329.83 L525.19,329.71 L524.44,329.63 L523.68,329.58 L522.93,329.56 L522.18,329.56 L521.43,329.58 L520.69,329.63 L519.95,329.68 L519.23,329.76 L518.51,329.85 L517.80,329.94 L517.10,330.05 L516.42,330.16 L515.74,330.28 L515.09,330.39 L514.45,330.51 L513.83,330.63 L513.21,330.75 L512.59,330.88 L511.99,331.01 L511.40,331.15 L510.81,331.30 L510.23,331.46 L509.65,331.62 L509.09,331.79 L508.53,331.97 L507.97,332.17 L507.43,332.37 L506.88,332.58 L506.35,332.80 L505.82,333.04 L505.29,333.29 L504.77,333.55 L504.26,333.82 L503.75,334.11 L503.24,334.41 L502.74,334.72 L502.25,335.04 L501.75,335.37 L501.27,335.71 L500.80,336.06 L500.33,336.42 L499.88,336.79 L499.44,337.17 L499.01,337.56 L498.60,337.95 L498.20,338.35 L497.82,338.76 L497.46,339.18 L497.12,339.61 L496.80,340.04 L496.49,340.49 L496.20,340.94 L495.92,341.40 L495.66,341.86 L495.42,342.33 L495.19,342.81 L494.97,343.29 L494.77,343.77 L494.58,344.26 L494.41,344.75 L494.25,345.24 L494.10,345.74 L493.96,346.24 L493.83,346.75 L493.74,347.27 L493.69,347.81 L493.65,348.35 L493.64,348.89 L493.64,349.42 L493.65,349.95 L493.68,350.49 L493.71,351.02 L493.75,351.55 L493.78,352.07 L493.82,352.60 L493.86,353.12 L493.89,353.64 L493.92,354.16 L493.93,354.67 L493.94,355.18 Z" fill="#6d9fe2"/>
<path d="M544.43,341.68 L544.90,341.36 L545.36,341.03 L545.82,340.69 L546.28,340.36 L546.74,340.02 L547.19,339.69 L547.65,339.36 L548.11,339.05 L548.57,338.74 L549.02,338.44 L549.46,338.13 L549.90,337.84 L550.35,337.57 L550.81,337.31 L551.27,337.08 L551.75,336.87 L552.25,336.63 L552.77,336.40 L553.31,336.17 L553.86,335.95 L554.42,335.74 L554.99,335.54 L555.56,335.35 L556.14,335.17 L556.72,335.02 L557.30,334.88 L557.87,334.76 L558.44,334.66 L559.00,334.58 L559.54,334.53 L560.08,334.50 L560.60,334.50 L561.13,334.51 L561.68,334.54 L562.23,334.60 L562.79,334.67 L563.35,334.77 L563.92,334.89 L564.48,335.02 L565.05,335.18 L565.60,335.35 L566.15,335.54 L566.69,335.74 L567.22,335.96 L567.73,336.20 L568.22,336.45 L568.70,336.71 L569.15,336.98 L569.58,337.26 L570.01,337.56 L570.44,337.91 L570.86,338.28 L571.28,338.68 L571.70,339.10 L572.11,339.54 L572.51,339.99 L572.90,340.46 L573.28,340.93 L573.65,341.40 L574.01,341.87 L574.36,342.34 L574.69,342.79 L575.00,343.24 L575.29,343.66 L575.57,344.03 L575.83,344.40 L576.06,344.76 L576.27,345.12 L576.47,345.49 L576.66,345.85 L576.86,346.22 L577.07,346.58 L577.27,346.95 L577.46,347.32 L577.65,347.70 L577.84,348.08 L578.03,348.47 L578.23,348.86 L578.43,349.25 L578.64,349.64 L579.36,349.36 L579.25,348.94 L579.15,348.52 L579.06,348.11 L578.98,347.70 L578.91,347.29 L578.84,346.87 L578.77,346.44 L578.70,346.01 L578.61,345.57 L578.51,345.12 L578.36,344.68 L578.20,344.23 L578.01,343.77 L577.80,343.30 L577.57,342.82 L577.31,342.34 L577.01,341.88 L576.71,341.41 L576.39,340.92 L576.04,340.42 L575.69,339.90 L575.31,339.38 L574.92,338.86 L574.51,338.33 L574.09,337.81 L573.65,337.30 L573.19,336.80 L572.72,336.32 L572.23,335.86 L571.72,335.41 L571.19,335.00 L570.65,334.62 L570.10,334.28 L569.53,333.97 L568.95,333.68 L568.35,333.40 L567.73,333.14 L567.11,332.90 L566.47,332.69 L565.83,332.49 L565.18,332.31 L564.53,332.15 L563.87,332.02 L563.21,331.91 L562.55,331.82 L561.90,331.75 L561.25,331.71 L560.60,331.70 L559.94,331.73 L559.28,331.79 L558.62,331.88 L557.96,332.00 L557.31,332.14 L556.66,332.30 L556.01,332.49 L555.37,332.69 L554.74,332.91 L554.12,333.14 L553.50,333.38 L552.90,333.64 L552.32,333.90 L551.75,334.17 L551.19,334.45 L550.65,334.73 L550.12,335.06 L549.61,335.41 L549.13,335.77 L548.66,336.15 L548.21,336.54 L547.78,336.94 L547.37,337.36 L546.99,337.79 L546.62,338.22 L546.25,338.66 L545.88,339.08 L545.51,339.51 L545.13,339.92 L544.76,340.33 L544.37,340.73 L543.97,341.12 Z" fill="#6d9fe2"/>
<path d="M574.80,351.30 L575.35,350.97 L575.90,350.63 L576.45,350.28 L577.00,349.93 L577.55,349.57 L578.10,349.22 L578.64,348.87 L579.19,348.54 L579.73,348.21 L580.27,347.91 L580.81,347.62 L581.35,347.36 L581.89,347.12 L582.41,346.90 L582.92,346.69 L583.44,346.52 L583.96,346.34 L584.50,346.17 L585.05,346.01 L585.59,345.88 L586.15,345.76 L586.70,345.65 L587.26,345.56 L587.82,345.49 L588.38,345.43 L588.94,345.39 L589.50,345.37 L590.06,345.36 L590.62,345.37 L591.17,345.39 L591.72,345.43 L592.26,345.49 L592.82,345.56 L593.38,345.65 L593.96,345.75 L594.54,345.86 L595.12,345.99 L595.70,346.13 L596.28,346.30 L596.85,346.47 L597.40,346.67 L597.95,346.88 L598.48,347.11 L598.99,347.35 L599.47,347.61 L599.94,347.89 L600.37,348.18 L600.78,348.48 L601.18,348.81 L601.58,349.18 L601.97,349.58 L602.36,350.00 L602.75,350.46 L603.12,350.93 L603.48,351.43 L603.83,351.94 L604.16,352.46 L604.47,352.99 L604.76,353.53 L605.03,354.07 L605.28,354.60 L605.50,355.13 L605.70,355.65 L605.87,356.15 L606.01,356.63 L606.14,357.13 L606.24,357.65 L606.32,358.17 L606.37,358.71 L606.41,359.26 L606.43,359.81 L606.43,360.37 L606.42,360.93 L606.38,361.49 L606.34,362.04 L606.28,362.59 L606.21,363.14 L606.12,363.67 L606.03,364.19 L605.94,364.69 L605.84,365.16 L605.71,365.63 L605.56,366.12 L605.38,366.62 L605.18,367.12 L604.97,367.62 L604.74,368.11 L604.50,368.60 L604.26,369.08 L604.01,369.55 L603.76,370.00 L603.52,370.43 L603.29,370.84 L603.07,371.22 L602.86,371.58 L602.68,371.90 L602.54,372.17 L602.42,372.39 L602.32,372.58 L602.24,372.76 L602.16,372.91 L602.09,373.05 L602.02,373.17 L601.93,373.29 L601.84,373.40 L601.74,373.51 L601.63,373.63 L601.51,373.75 L601.38,373.88 L601.24,374.01 L601.10,374.16 L600.97,374.32 L601.43,374.88 L601.59,374.79 L601.74,374.73 L601.88,374.69 L602.03,374.65 L602.18,374.62 L602.34,374.58 L602.52,374.54 L602.70,374.49 L602.90,374.41 L603.12,374.32 L603.35,374.20 L603.58,374.05 L603.82,373.87 L604.06,373.65 L604.29,373.39 L604.52,373.10 L604.75,372.78 L604.99,372.44 L605.24,372.07 L605.52,371.66 L605.81,371.23 L606.10,370.78 L606.40,370.30 L606.70,369.80 L606.99,369.28 L607.28,368.75 L607.56,368.20 L607.83,367.64 L608.07,367.07 L608.30,366.49 L608.50,365.90 L608.66,365.31 L608.79,364.74 L608.91,364.16 L609.01,363.57 L609.10,362.97 L609.18,362.35 L609.25,361.72 L609.30,361.08 L609.33,360.44 L609.34,359.79 L609.33,359.14 L609.30,358.49 L609.25,357.83 L609.16,357.18 L609.05,356.53 L608.91,355.89 L608.73,355.25 L608.52,354.63 L608.28,354.01 L608.02,353.39 L607.73,352.76 L607.42,352.14 L607.08,351.52 L606.72,350.90 L606.34,350.30 L605.94,349.71 L605.51,349.13 L605.08,348.56 L604.62,348.02 L604.14,347.50 L603.65,347.01 L603.15,346.55 L602.62,346.12 L602.07,345.72 L601.49,345.35 L600.90,345.02 L600.29,344.71 L599.66,344.42 L599.03,344.16 L598.38,343.93 L597.73,343.71 L597.07,343.52 L596.41,343.35 L595.75,343.20 L595.10,343.06 L594.45,342.95 L593.80,342.85 L593.17,342.77 L592.54,342.71 L591.91,342.67 L591.28,342.64 L590.64,342.64 L590.00,342.66 L589.37,342.69 L588.73,342.75 L588.10,342.82 L587.46,342.91 L586.84,343.02 L586.21,343.15 L585.59,343.29 L584.97,343.46 L584.36,343.64 L583.75,343.83 L583.16,344.05 L582.56,344.28 L581.97,344.57 L581.39,344.89 L580.84,345.25 L580.31,345.64 L579.79,346.05 L579.28,346.46 L578.78,346.89 L578.29,347.33 L577.80,347.76 L577.32,348.20 L576.83,348.64 L576.35,349.07 L575.87,349.50 L575.38,349.91 L574.89,350.31 L574.40,350.70 Z" fill="#6d9fe2"/>
<text transform="translate(48.40,385.90) scale(1.400,1)" x="0" y="0" font-size="21.50" textLength="74.29" lengthAdjust="spacing" style="stroke-width:0.45px">Internet</text>
<text transform="translate(517.40,379.10) scale(1.000,1)" x="0" y="0" font-size="18.20" textLength="36.00" lengthAdjust="spacing" style="font-family:Liberation Sans,sans-serif;stroke-width:0.5px">LAN</text>
</g>
</svg>
</body></html>
